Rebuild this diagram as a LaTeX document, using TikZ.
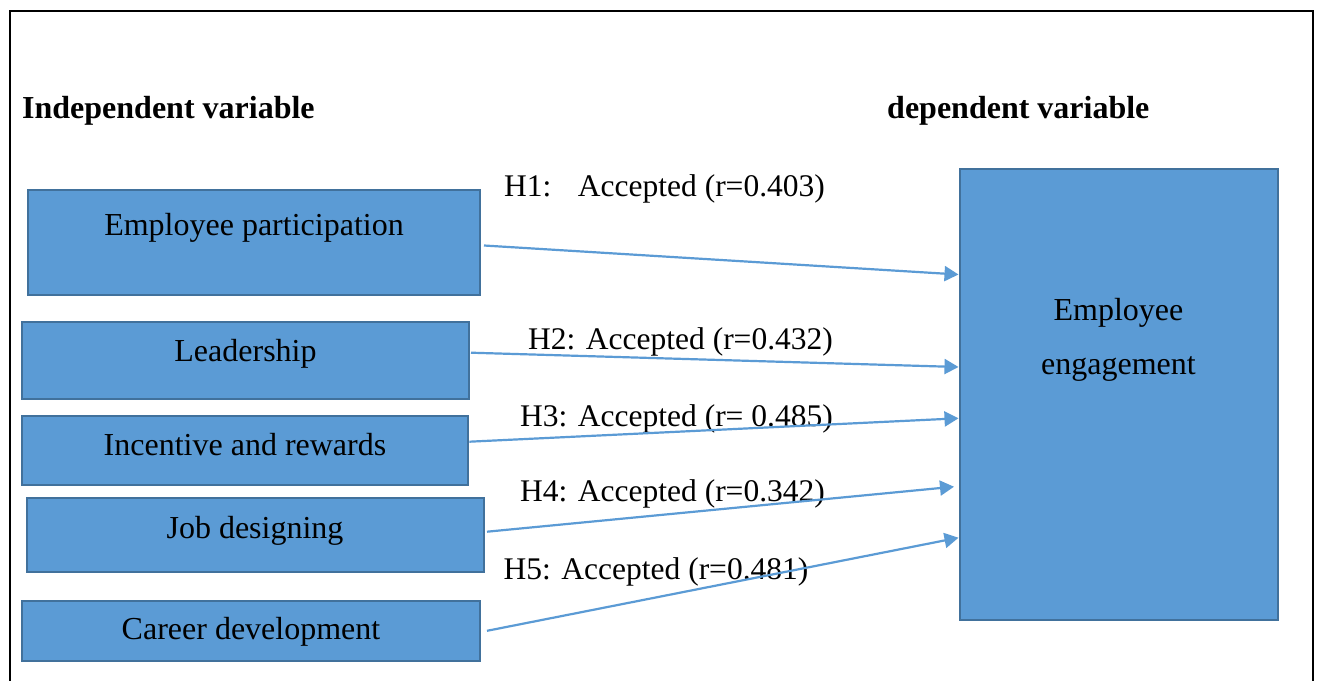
\documentclass[tikz,border=0pt]{standalone}
\usepackage{fontspec}
\setmainfont{Liberation Serif}
\usetikzlibrary{arrows.meta,calc}
\definecolor{boxfill}{HTML}{5B9BD5}
\definecolor{boxline}{HTML}{41719C}
\definecolor{linkblue}{HTML}{5B9BD5}

\begin{document}
\begin{tikzpicture}[x=1pt,y=-1pt,
  every node/.style={font=\fontsize{32}{38}\selectfont},
  varbox/.style={draw=boxline, line width=2pt, fill=boxfill, inner sep=0pt, text height=21pt},
  heading/.style={font=\fontsize{32}{38}\selectfont\bfseries, anchor=base west, inner sep=0pt},
  hyp/.style={font=\fontsize{31.5}{38}\selectfont, anchor=base west, inner sep=0pt},
  link/.style={draw=linkblue, line width=2.2pt, -{Triangle[length=14pt,width=15pt]}},
]
\useasboundingbox (0,0) rectangle (1319,680);
\fill[white] (0,0) rectangle (1319,680);
% outer frame, open at the bottom
\draw[line width=2pt] (10,684) -- (10,11) -- (1313,11) -- (1313,684);

% column headings
\node[heading] (hind) at (22,118) {Independent variable};
\node[heading] (hdep) at (887,118) {dependent variable};

% independent variables
\node[varbox, minimum width=452, minimum height=105, text depth=36pt] (ep) at (254,242.5) {Employee participation};
\node[varbox, minimum width=447, minimum height=77, text depth=18pt] (ld) at (245.5,360.3) {Leadership};
\node[varbox, minimum width=446, minimum height=69, text depth=11pt] (ir) at (245,450.5) {Incentive and rewards};
\node[varbox, minimum width=457, minimum height=73.4, text depth=14pt] (jd) at (255,535) {Job designing};
\node[varbox, minimum width=458, minimum height=60.3, text depth=2.7pt] (cd) at (251,630.8) {Career development};

% dependent variable
\node[varbox, minimum width=318, minimum height=451] (ee) at (1118.5,394.5) {};
\node[align=center, anchor=north, inner sep=0pt, font=\fontsize{32}{54}\selectfont] (eet) at (1118.5,298.3) {Employee\\engagement};

% hypothesis labels
\node[hyp] (h1) at (504,196) {H1:\hspace{16pt} Accepted (r=0.403)};
\node[hyp] (h2) at (528,349.3) {H2: Accepted (r=0.432)};
\node[hyp] (h3) at (520,426) {H3: Accepted (r= 0.485)};
\node[hyp] (h4) at (520,501) {H4: Accepted (r=0.342)};
\node[hyp] (h5) at (503.5,579.3) {H5: Accepted (r=0.481)};

% hypothesised links
\draw[link] ($(ep.east)+(3,3)$) -- ($(ee.west)+(0,-120)$);
\draw[link] ($(ld.east)+(1,-7.6)$) -- ($(ee.west)+(0,-27.5)$);
\draw[link] ($(ir.east)+(0.3,-8.8)$) -- ($(ee.west)+(0,23.8)$);
\draw[link] ($(jd.east)+(2.5,-3.3)$) -- ($(ee.west)+(-4.5,92.2)$);
\draw[link] ($(cd.east)+(6,0)$) -- ($(ee.west)+(0,143.2)$);
\end{tikzpicture}
\end{document}
